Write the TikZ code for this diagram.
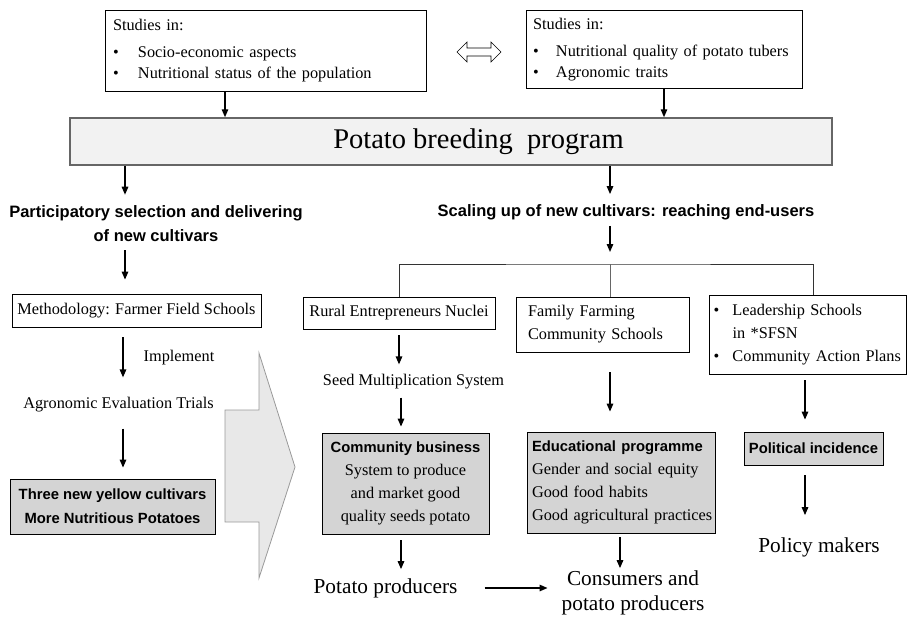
\documentclass[tikz,border=0pt]{standalone}
\usepackage{fontspec}
\setmainfont{Liberation Serif}
\setsansfont{Liberation Sans}
\usetikzlibrary{arrows.meta}

\newcommand{\blt}[1][23pt]{\makebox[#1][l]{\textbullet}}
\newcommand{\boxtitle}[1]{{\sffamily\bfseries\fontsize{14.8}{23}\selectfont #1}}

\begin{document}
\begin{tikzpicture}[x=1pt,y=-1pt,
  box/.style={draw, line width=0.8pt, inner sep=0pt, align=center, font=\fontsize{16.3}{23}\selectfont},
  graybox/.style={box, fill=black!17},
  txt/.style={inner sep=0pt, font=\fontsize{16.3}{23}\selectfont},
  bigtxt/.style={inner sep=0pt, align=center, font=\fontsize{21.3}{25}\selectfont},
  head/.style={inner sep=0pt, align=center, font=\sffamily\bfseries\fontsize{16.5}{24}\selectfont},
  arr/.style={line width=1.4pt, -{Triangle[length=8pt,width=6.5pt]}}]

  \useasboundingbox (0,0) rectangle (908,624);

  % Studies on top
  \node[box, font=\fontsize{16.3}{21}\selectfont, minimum width=321pt, minimum height=81pt,
        text width=305pt, align=left] (studsoc) at (265.5,51)
    {Studies in:\\[6pt] \blt[25pt]Socio-economic aspects\\ \blt[25pt]Nutritional status of the population};
  \node[box, font=\fontsize{16.3}{21}\selectfont, minimum width=276pt, minimum height=78pt,
        text width=262pt, align=left] (studnut) at (664,49.5)
    {Studies in:\\[6pt] \blt Nutritional quality of potato tubers\\ \blt Agronomic traits};

  % hollow double arrow between them
  \filldraw[fill=white, line width=0.6pt] (457,52) -- (467,42) -- (467,48) -- (491,48) -- (491,42)
    -- (501,52) -- (491,62) -- (491,56) -- (467,56) -- (467,62) -- cycle;

  % Breeding program bar
  \node[box, draw=black!60, line width=1.5pt, fill=black!5, minimum width=762pt, minimum height=47pt,
        font=\fontsize{28.5}{30}\selectfont] (bar) at (451,141.5) {\hspace*{55pt}Potato breeding\ \ program};

  % Left branch
  \node[head] (partsel) at (156,224) {Participatory selection and delivering\\of new cultivars};
  \node[box, minimum width=249pt, minimum height=33pt] (meth) at (136.5,310.5) {Methodology: Farmer Field Schools};
  \node[txt] (impl) at (179,358) {Implement};
  \node[txt] (agro) at (118.5,405) {Agronomic Evaluation Trials};
  \node[graybox, minimum width=205pt, minimum height=55pt,
        font=\sffamily\bfseries\fontsize{14.8}{24}\selectfont] (cult) at (112.5,506.5)
    {Three new yellow cultivars\\More Nutritious Potatoes};

  % Big grey arrow
  \filldraw[fill=black!9, draw=black!40, line width=0.8pt] (225,410) -- (259,410) -- (259,353) -- (295,467)
    -- (259,578) -- (259,522) -- (225,522) -- cycle;

  % Right branch
  \node[head] (scale) at (626,212) {Scaling up of new cultivars: reaching end-users};
  \coordinate (hub) at (610,264);
  \node[box, minimum width=192pt, minimum height=32pt] (rural) at (399,313) {Rural Entrepreneurs Nuclei};
  \node[box, minimum width=173pt, minimum height=55pt, text width=149pt, align=left] (family) at (602.5,324.5)
    {Family Farming\\Community Schools};
  \node[box, minimum width=197pt, minimum height=79pt, text width=188pt, align=left] (lead) at (807.5,334.5)
    {\blt[19pt]Leadership Schools\\ \hspace*{19pt}in *SFSN\\ \blt[19pt]Community Action Plans};

  \node[txt] (seed) at (413.5,382) {Seed Multiplication System};
  \node[graybox, minimum width=167pt, minimum height=101pt] (comm) at (405.5,483.5)
    {\boxtitle{Community business}\\ System to produce\\ and market good\\ quality seeds potato};
  \node[graybox, minimum width=188pt, minimum height=101pt, text width=178pt, align=left] (edu) at (621,482.5)
    {\boxtitle{Educational programme}\\ Gender and social equity\\ Good food habits\\ \mbox{Good agricultural practices}};
  \node[graybox, minimum width=139pt, minimum height=33pt] (pol) at (813.5,448.5) {\boxtitle{Political incidence}};

  % End users
  \node[bigtxt] (potprod) at (385.5,588) {Potato producers};
  \node[bigtxt] (cons) at (633,592.5) {Consumers and\\potato producers};
  \node[bigtxt] (policy) at (819,547) {Policy makers};

  % Branching lines
  \draw[line width=0.8pt, black!80] (rural.north) |- (hub) -| (lead.north -| 813,0);
  \draw[line width=0.8pt, black!60] (hub) -- (family.north -| hub);

  % Arrows
  \foreach \from/\to/\lane/\gapa/\gapb in {studsoc/bar/225/0/0, studnut/bar/664/0/0,
      bar/partsel/125/0/11, partsel/meth/125/8/14, meth/agro/123/10/20, agro/cult/123/16/11,
      bar/scale/610/0/10, rural/seed/399/6/10, seed/comm/401/8/6, family/edu/610/20/20,
      lead/pol/805/6/12, comm/potprod/401/6/9, edu/cons/620/4/2, pol/policy/805/10/22}
    \draw[arr, shorten <=\gapa pt, shorten >=\gapb pt] (\from.south -| \lane,0) -- (\to.north -| \lane,0);
  \draw[arr, shorten >=12pt] (scale.south -| hub) ++(0,6) -- (hub);
  \draw[arr, shorten <=27pt, shorten >=14pt] (potprod.east) -- (potprod.east -| cons.west);
\end{tikzpicture}
\end{document}
